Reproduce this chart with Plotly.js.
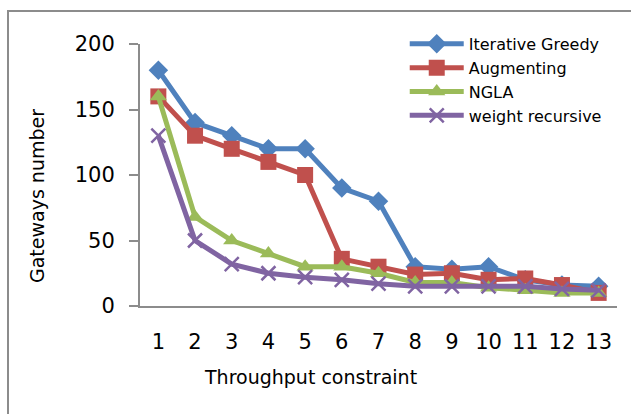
<!DOCTYPE html>
<html>
<head>
<meta charset="utf-8">
<script src="https://cdn.plot.ly/plotly-3.0.1.min.js"></script>
<style>
html,body{margin:0;padding:0;background:#fff;}
#wrap{position:relative;width:631px;height:414px;}
#frame{position:absolute;left:7px;top:10px;width:640px;height:420px;border-left:2px solid #8c8c8c;border-top:2px solid #8c8c8c;pointer-events:none;}
#chart{position:absolute;left:0;top:0;width:631px;height:414px;}
</style>
</head>
<body>
<div id="wrap"><div id="frame"></div><div id="chart"></div></div>
<script>
const constraints = [1,2,3,4,5,6,7,8,9,10,11,12,13];
const iterativeGreedy = [180,140,130,120,120,90,80,30,28,30,20,16,15];
const augmenting = [160,130,120,110,100,36,30,24,25,20,21,16,10];
const ngla = [160,68,50,40,30,30,25,18,18,14,12,10,10];
const weightRecursive = [130,50,32,25,22,20,17,15,15,15,15,13,12];
const seriesNames = ["Iterative Greedy","Augmenting","NGLA","weight recursive"];
const colors = ["#4F81BD","#C0504D","#9BBB59","#8064A2"];
const symbols = ["diamond","square","triangle-up","x-thin"];
const sizes = [15,16,15,14];
const all = [iterativeGreedy, augmenting, ngla, weightRecursive];

const font = "DejaVu Sans, sans-serif";
const traces = all.map((ys,i)=>({
  x: constraints, y: ys, name: seriesNames[i], type:"scatter", mode:"lines+markers",
  line:{color:colors[i], width:5},
  marker:{symbol:symbols[i], size:sizes[i], color:colors[i], line:{color:colors[i], width: i===3?2.5:0}},
  cliponaxis:false
}));

const layout = {
  width:631, height:414,
  margin:{l:140, r:14, t:44, b:108},
  paper_bgcolor:"rgba(0,0,0,0)", plot_bgcolor:"rgba(0,0,0,0)",
  showlegend:true,
  legend:{x:0.555, y:1.065, xanchor:"left", yanchor:"top", bgcolor:"rgba(0,0,0,0)",
    font:{family:font, size:16, color:"#000"}, itemwidth:54, tracegroupgap:0},
  xaxis:{range:[0.5,13.5], tickvals:constraints, ticktext:constraints.map(String),
    showgrid:false, zeroline:false, showline:true, linecolor:"#8c8c8c", linewidth:2,
    ticks:"", ticklabelstandoff:16, tickfont:{family:font, size:21, color:"#000"}},
  yaxis:{range:[0,200], tickvals:[0,50,100,150,200], showgrid:false, zeroline:false,
    showline:true, linecolor:"#8c8c8c", linewidth:2, ticks:"outside", ticklen:9,
    tickcolor:"#8c8c8c", tickwidth:2, ticklabelstandoff:10,
    tickfont:{family:font, size:21, color:"#000"}},
  annotations:[
    {text:"Throughput constraint", xref:"paper", yref:"paper", x:(310-140)/477, y:-(377-306)/262,
     xanchor:"center", yanchor:"middle", showarrow:false, font:{family:font, size:19, color:"#000"}},
    {text:"Gateways number", xref:"paper", yref:"paper", x:-(140-37)/477, y:(306-196)/262,
     xanchor:"center", yanchor:"middle", textangle:-90, showarrow:false, font:{family:font, size:19, color:"#000"}}
  ]
};
Plotly.newPlot("chart", traces, layout, {displayModeBar:false, staticPlot:true});
</script>
</body>
</html>
